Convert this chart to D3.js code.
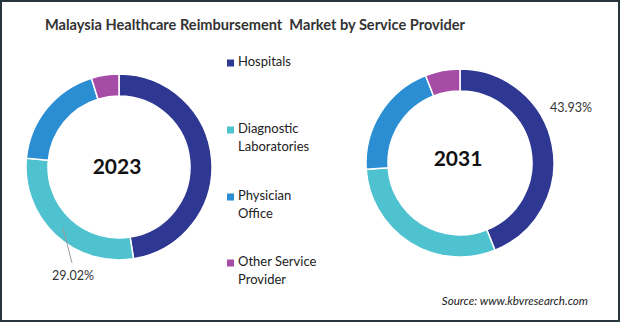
<!DOCTYPE html>
<html>
<head>
<meta charset="utf-8">
<script src="https://cdn.jsdelivr.net/npm/d3@7"></script>
<style>
  html, body { margin: 0; padding: 0; background: #fff; }
  svg { display: block; }
  text { font-family: Lato, "Open Sans", sans-serif; }
</style>
</head>
<body>
<svg id="chart" width="620" height="322"></svg>
<script>
const categories = ["Hospitals", "Diagnostic Laboratories", "Physician Office", "Other Service Provider"];
const legendLines = [["Hospitals"], ["Diagnostic", "Laboratories"], ["Physician", "Office"], ["Other Service", "Provider"]];
const values2023 = [47.5, 29.02, 18.7, 4.78];
const values2031 = [43.93, 30.0, 20.1, 5.97];
const years = ["2023", "2031"];
const colors = ["#2E3892", "#4FC2CF", "#2B8ED2", "#A64CA6"];

const svg = d3.select("#chart");
const W = 620, H = 322;

svg.append("rect").attr("x", 1).attr("y", 1).attr("width", W - 2).attr("height", H - 2)
  .attr("fill", "#fff").attr("stroke", "#27353d").attr("stroke-width", 2);

svg.append("text")
  .attr("x", 255).attr("y", 30)
  .attr("text-anchor", "middle")
  .attr("font-size", 14.6).attr("font-weight", "bold").attr("fill", "#333")
  .style("white-space", "pre")
  .text("Malaysia Healthcare Reimbursement  Market by Service Provider");

const color = d3.scaleOrdinal().domain(categories).range(colors);
const pie = d3.pie().sort(null).value(d => d.v);

const donuts = [
  { year: years[0], values: values2023, cx: 119, cy: 167, r: 93, ty: 169 },
  { year: years[1], values: values2031, cx: 460, cy: 163, r: 94, ty: 161 }
];

donuts.forEach(dn => {
  const data = categories.map((c, i) => ({ c, v: dn.values[i] }));
  const arc = d3.arc().innerRadius(dn.r - 22).outerRadius(dn.r);
  const g = svg.append("g").attr("transform", `translate(${dn.cx},${dn.cy})`);
  g.selectAll("path").data(pie(data)).join("path")
    .attr("d", arc)
    .attr("fill", d => color(d.data.c))
    .attr("stroke", "#fff").attr("stroke-width", 1.5);
  g.append("text")
    .attr("x", -2).attr("y", dn.ty - dn.cy)
    .attr("text-anchor", "middle").attr("dominant-baseline", "middle")
    .attr("font-size", 21).attr("font-weight", "bold").attr("fill", "#111")
    .text(dn.year);
});

// 2023 Diagnostic label with leader line
svg.append("line").attr("x1", 63).attr("y1", 228).attr("x2", 72).attr("y2", 263)
  .attr("stroke", "#999").attr("stroke-width", 1);
svg.append("text").attr("x", 73).attr("y", 280).attr("text-anchor", "middle")
  .attr("font-size", 12.5).attr("fill", "#333")
  .text(d3.format(".2f")(values2023[1]) + "%");

// 2031 Hospitals label
svg.append("text").attr("x", 571).attr("y", 112).attr("text-anchor", "middle")
  .attr("font-size", 12.5).attr("fill", "#333")
  .text(d3.format(".2f")(values2031[0]) + "%");

// Legend
const legendY = [63, 130, 197, 263];
const lg = svg.append("g");
categories.forEach((c, i) => {
  lg.append("rect").attr("x", 227).attr("y", legendY[i] - 3.5).attr("width", 7).attr("height", 7)
    .attr("fill", color(c));
  legendLines[i].forEach((ln, j) => {
    lg.append("text").attr("x", 238).attr("y", legendY[i] + j * 18)
      .attr("dominant-baseline", "middle")
      .attr("font-size", 13).attr("fill", "#222")
      .text(ln);
  });
});

svg.append("text").attr("x", 588).attr("y", 305).attr("text-anchor", "end")
  .attr("font-size", 11.6).attr("font-style", "italic").attr("fill", "#222")
  .text("Source: www.kbvresearch.com");
</script>
</body>
</html>
